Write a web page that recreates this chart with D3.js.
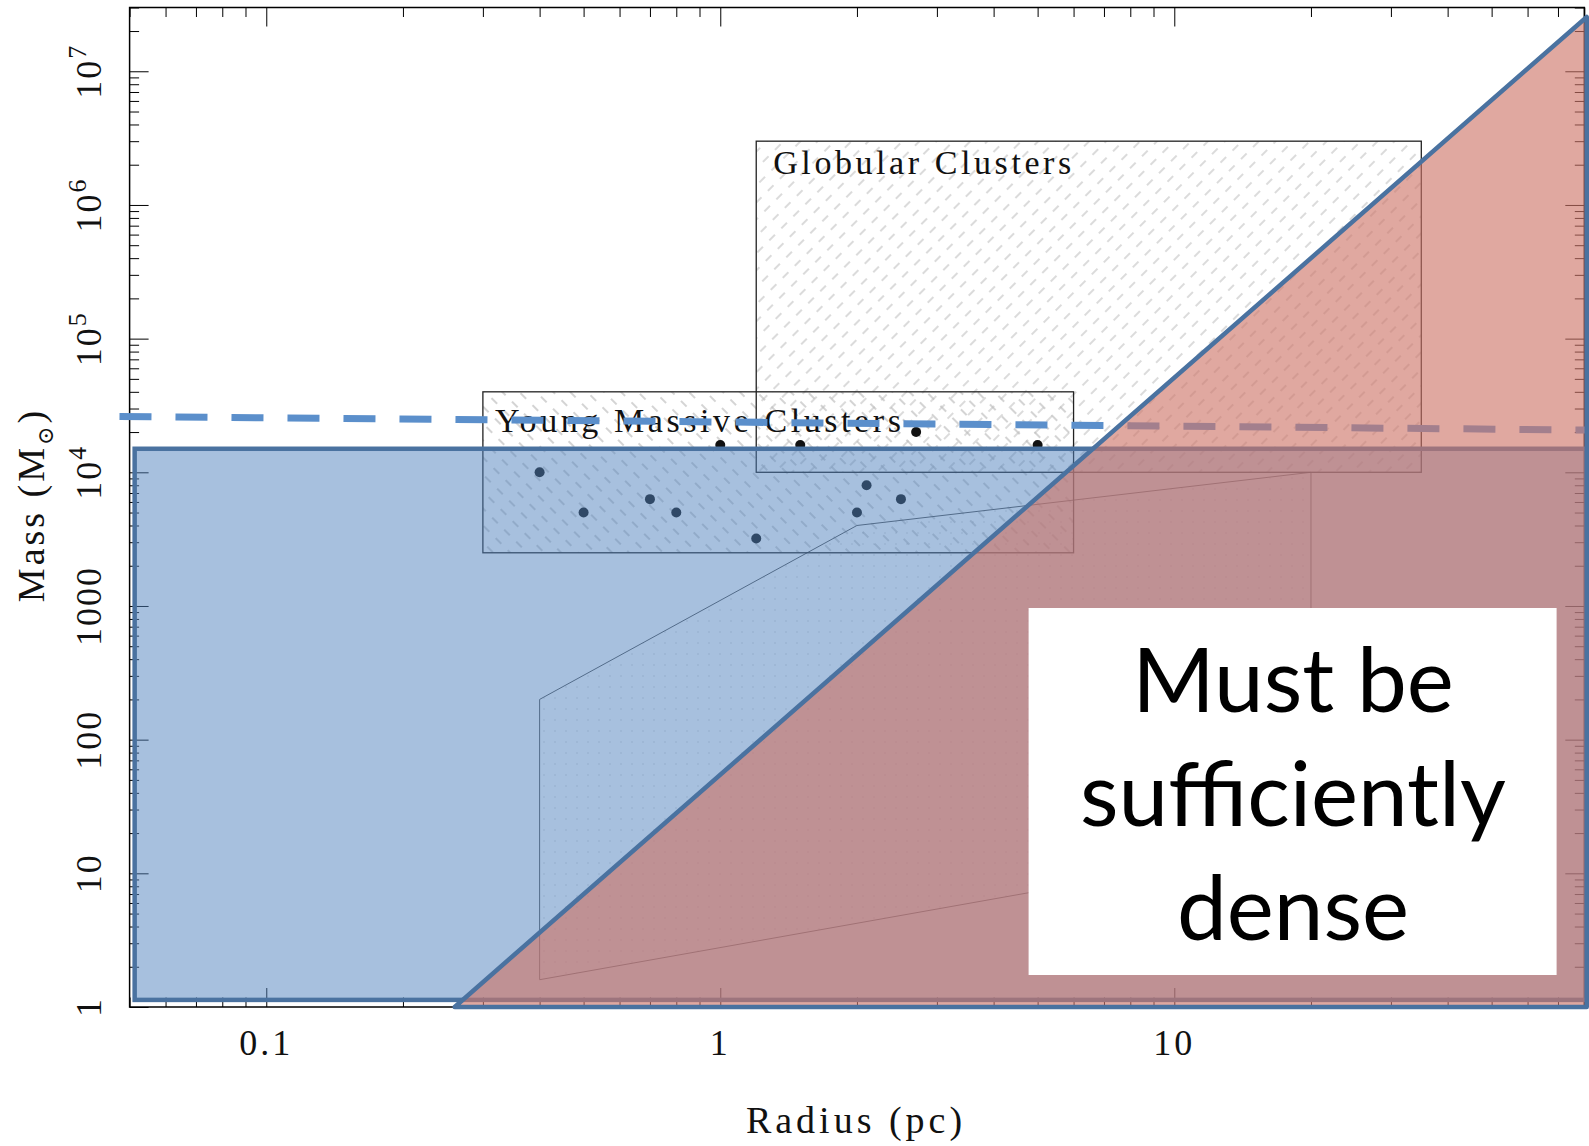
<!DOCTYPE html>
<html>
<head>
<meta charset="utf-8">
<script src="https://cdn.jsdelivr.net/npm/d3@7"></script>
<style>
  html, body { margin: 0; padding: 0; background: #fff; }
  svg { display: block; }
</style>
</head>
<body>
<div id="chart"></div>
<script>
// axis ticks
var xMajor = [0.1, 1, 10];
var xTickLabels = ['0.1', '1', '10'];
var xMinor = [0.05, 0.06, 0.07, 0.08, 0.09, 0.2, 0.3, 0.4, 0.5, 0.6, 0.7, 0.8, 0.9,
              2, 3, 4, 5, 6, 7, 8, 9, 20, 30, 40, 50, 60, 70, 80];
var yMajor = [1, 10, 100, 1000, 1e4, 1e5, 1e6, 1e7];
var yTickBase = ['1', '10', '100', '1000', '10', '10', '10', '10'];
var yTickExp  = ['', '', '', '', '4', '5', '6', '7'];
var yMinor = [];
yMajor.forEach(function(d) {
  for (var k = 2; k <= 9; k++) { if (d * k <= 3e7) yMinor.push(d * k); }
});

// young massive clusters (points)
var ymcRadius = [0.40, 0.50, 0.70, 0.80, 1.0, 1.2, 1.5, 2.0, 2.1, 2.5, 2.7, 5.0];
var ymcMass   = [1.0e4, 5.0e3, 6.3e3, 5.0e3, 1.6e4, 3.2e3, 1.6e4, 5.0e3, 8.0e3, 6.3e3, 2.0e4, 1.6e4];

// boxes from the original figure
var gcRadius  = [1.2, 35];
var gcMass    = [1e4, 3e6];
var ymcBoxRadius = [0.3, 6];
var ymcBoxMass   = [2500, 4e4];

// thin outlined region (open clusters / associations)
var regionRadius = [0.4, 2, 20, 20, 0.4];
var regionMass   = [200, 4000, 1e4, 17, 1.6];

// overlays
var lowMassRadius = [0.0513, 81];
var lowMassMass   = [1.13, 1.5e4];
var denseRadius = [0.26, 81, 81];
var denseMass   = [1, 2.55e7, 1];
var dashRadius = [0.0475, 83];
var dashMass   = [2.62e4, 2.07e4];

var noteLines = ['Must be', 'sufficiently', 'dense'];

var W = 1589, H = 1146;
var x = d3.scaleLog().domain([0.05, 80]).range([129.6, 1584.3]);
var y = d3.scaleLog().domain([1, 3e7]).range([1007, 7.5]);

var svg = d3.select('#chart').append('svg')
  .attr('width', W)
  .attr('height', H);

var defs = svg.append('defs');

// dashed diagonal hatching: "/" for globular clusters, "\" for YMCs
function hatch(id, angle, colour) {
  var p = defs.append('pattern')
    .attr('id', id)
    .attr('patternUnits', 'userSpaceOnUse')
    .attr('patternTransform', 'rotate(' + angle + ')')
    .attr('width', 17).attr('height', 12);
  p.append('line')
    .attr('x1', 0).attr('y1', 6).attr('x2', 8).attr('y2', 6)
    .attr('stroke', colour).attr('stroke-width', 1.3);
}
hatch('hatchGC', -45, '#c8c8c8');
hatch('hatchYMC', 45, '#bcbcbc');

var dots = defs.append('pattern')
  .attr('id', 'dots')
  .attr('patternUnits', 'userSpaceOnUse')
  .attr('width', 11).attr('height', 11);
dots.append('circle')
  .attr('cx', 5).attr('cy', 5).attr('r', 0.8)
  .attr('fill', '#888').attr('opacity', 0.35);

function boxAttrs(sel, rr, mm) {
  sel.attr('x', x(rr[0]))
    .attr('y', y(mm[1]))
    .attr('width', x(rr[1]) - x(rr[0]))
    .attr('height', y(mm[0]) - y(mm[1]));
}

// original figure: hatched boxes
svg.append('rect').call(boxAttrs, gcRadius, gcMass)
  .attr('fill', 'url(#hatchGC)');
svg.append('rect').call(boxAttrs, ymcBoxRadius, ymcBoxMass)
  .attr('fill', 'url(#hatchYMC)');

var regionPts = regionRadius.map(function(r, i) { return [x(r), y(regionMass[i])]; });
svg.append('path')
  .attr('d', d3.line()(regionPts) + 'Z')
  .attr('fill', 'url(#dots)')
  .attr('stroke', '#555')
  .attr('stroke-width', 1);

svg.append('rect').call(boxAttrs, gcRadius, gcMass)
  .attr('fill', 'none').attr('stroke', '#222').attr('stroke-width', 1.3);
svg.append('rect').call(boxAttrs, ymcBoxRadius, ymcBoxMass)
  .attr('fill', 'none').attr('stroke', '#222').attr('stroke-width', 1.3);

svg.selectAll('circle.ymc')
  .data(ymcRadius)
  .enter().append('circle')
    .attr('class', 'ymc')
    .attr('cx', function(d) { return x(d); })
    .attr('cy', function(d, i) { return y(ymcMass[i]); })
    .attr('r', 5)
    .attr('fill', '#111');

svg.append('text')
  .attr('x', x(gcRadius[0]) + 17)
  .attr('y', y(gcMass[1]) + 33)
  .attr('font-family', 'Liberation Serif, serif')
  .attr('font-size', 34)
  .attr('textLength', 298)
  .attr('lengthAdjust', 'spacing')
  .attr('fill', '#111')
  .text('Globular Clusters');

svg.append('text')
  .attr('x', x(ymcBoxRadius[0]) + 12)
  .attr('y', y(ymcBoxMass[1]) + 40)
  .attr('font-family', 'Liberation Serif, serif')
  .attr('font-size', 34)
  .attr('textLength', 406)
  .attr('lengthAdjust', 'spacing')
  .attr('fill', '#111')
  .text('Young Massive Clusters');

// frame and ticks on all four sides
function ticks(g) { g.select('.domain').remove(); g.selectAll('line').attr('stroke', '#000'); }

svg.append('g').attr('transform', 'translate(0,' + y(1) + ')')
  .call(d3.axisBottom(x).tickValues(xMajor).tickSize(-19).tickFormat('')).call(ticks);
svg.append('g').attr('transform', 'translate(0,' + y(1) + ')')
  .call(d3.axisBottom(x).tickValues(xMinor).tickSize(-9.5).tickFormat('')).call(ticks);
svg.append('g').attr('transform', 'translate(0,' + y(3e7) + ')')
  .call(d3.axisTop(x).tickValues(xMajor).tickSize(-19).tickFormat('')).call(ticks);
svg.append('g').attr('transform', 'translate(0,' + y(3e7) + ')')
  .call(d3.axisTop(x).tickValues(xMinor).tickSize(-9.5).tickFormat('')).call(ticks);
svg.append('g').attr('transform', 'translate(' + x(0.05) + ',0)')
  .call(d3.axisLeft(y).tickValues(yMajor).tickSize(-19).tickFormat('')).call(ticks);
svg.append('g').attr('transform', 'translate(' + x(0.05) + ',0)')
  .call(d3.axisLeft(y).tickValues(yMinor).tickSize(-9.5).tickFormat('')).call(ticks);
svg.append('g').attr('transform', 'translate(' + x(80) + ',0)')
  .call(d3.axisRight(y).tickValues(yMajor).tickSize(-19).tickFormat('')).call(ticks);
svg.append('g').attr('transform', 'translate(' + x(80) + ',0)')
  .call(d3.axisRight(y).tickValues(yMinor).tickSize(-9.5).tickFormat('')).call(ticks);

svg.append('rect')
  .attr('x', x(0.05)).attr('y', y(3e7))
  .attr('width', x(80) - x(0.05)).attr('height', y(1) - y(3e7))
  .attr('fill', 'none').attr('stroke', '#000').attr('stroke-width', 1.5);

// tick labels
var serif = 'Liberation Serif, DejaVu Serif, serif';
svg.selectAll('text.xlab')
  .data(xMajor)
  .enter().append('text')
    .attr('class', 'xlab')
    .attr('x', function(d) { return x(d); })
    .attr('y', 1055)
    .attr('text-anchor', 'middle')
    .attr('font-family', serif)
    .attr('font-size', 36)
    .attr('letter-spacing', 3)
    .attr('fill', '#111')
    .text(function(d, i) { return xTickLabels[i]; });

var ylab = svg.selectAll('text.ylab')
  .data(yMajor)
  .enter().append('text')
    .attr('class', 'ylab')
    .attr('transform', function(d) { return 'translate(101,' + y(d) + ') rotate(-90)'; })
    .attr('text-anchor', 'middle')
    .attr('font-family', serif)
    .attr('font-size', 36)
    .attr('letter-spacing', 2)
    .attr('fill', '#111');
ylab.append('tspan').text(function(d, i) { return yTickBase[i]; });
ylab.append('tspan')
  .attr('dy', -15)
  .attr('font-size', 26)
  .text(function(d, i) { return yTickExp[i]; });

// axis titles
svg.append('text')
  .attr('x', 856).attr('y', 1133)
  .attr('text-anchor', 'middle')
  .attr('font-family', serif)
  .attr('font-size', 38)
  .attr('letter-spacing', 4)
  .attr('fill', '#111')
  .text('Radius (pc)');

var ytitle = svg.append('text')
  .attr('transform', 'translate(44,505) rotate(-90)')
  .attr('text-anchor', 'middle')
  .attr('font-family', serif)
  .attr('font-size', 38)
  .attr('letter-spacing', 3)
  .attr('fill', '#111');
ytitle.append('tspan').text('Mass (M');
ytitle.append('tspan').attr('dy', 9).attr('font-size', 22).text('\u2299');
ytitle.append('tspan').attr('dy', -9).text(')');

// overlay: low-mass region
svg.append('rect').call(boxAttrs, lowMassRadius, lowMassMass)
  .attr('fill', 'rgb(79,129,189)')
  .attr('fill-opacity', 0.5)
  .attr('stroke', '#4a72a0')
  .attr('stroke-width', 4.5);

// overlay: dashed mass threshold
svg.append('path')
  .attr('d', d3.line()(dashRadius.map(function(r, i) { return [x(r), y(dashMass[i])]; })))
  .attr('fill', 'none')
  .attr('stroke', '#5b8fcb')
  .attr('stroke-width', 7)
  .attr('stroke-dasharray', '32,24');

// overlay: density triangle
var densePts = denseRadius.map(function(r, i) { return [x(r), y(denseMass[i])]; });
svg.append('path')
  .attr('d', d3.line()(densePts) + 'Z')
  .attr('fill', 'rgb(206,117,104)')
  .attr('fill-opacity', 0.63);
svg.append('path')
  .attr('d', d3.line()(densePts) + 'Z')
  .attr('fill', 'none')
  .attr('stroke', '#4a72a0')
  .attr('stroke-width', 4.5)
  .attr('stroke-linejoin', 'round');

// annotation box
var note = svg.append('g');
note.append('rect')
  .attr('x', 1028.6).attr('y', 608)
  .attr('width', 528).attr('height', 367)
  .attr('fill', '#fff');
note.selectAll('text')
  .data(noteLines)
  .enter().append('text')
    .attr('x', 1293)
    .attr('y', function(d, i) { return 712 + i * 114; })
    .attr('text-anchor', 'middle')
    .attr('font-family', 'Lato, Open Sans, sans-serif')
    .attr('font-size', 89)
    .attr('fill', '#000')
    .text(function(d) { return d; });
</script>
</body>
</html>
